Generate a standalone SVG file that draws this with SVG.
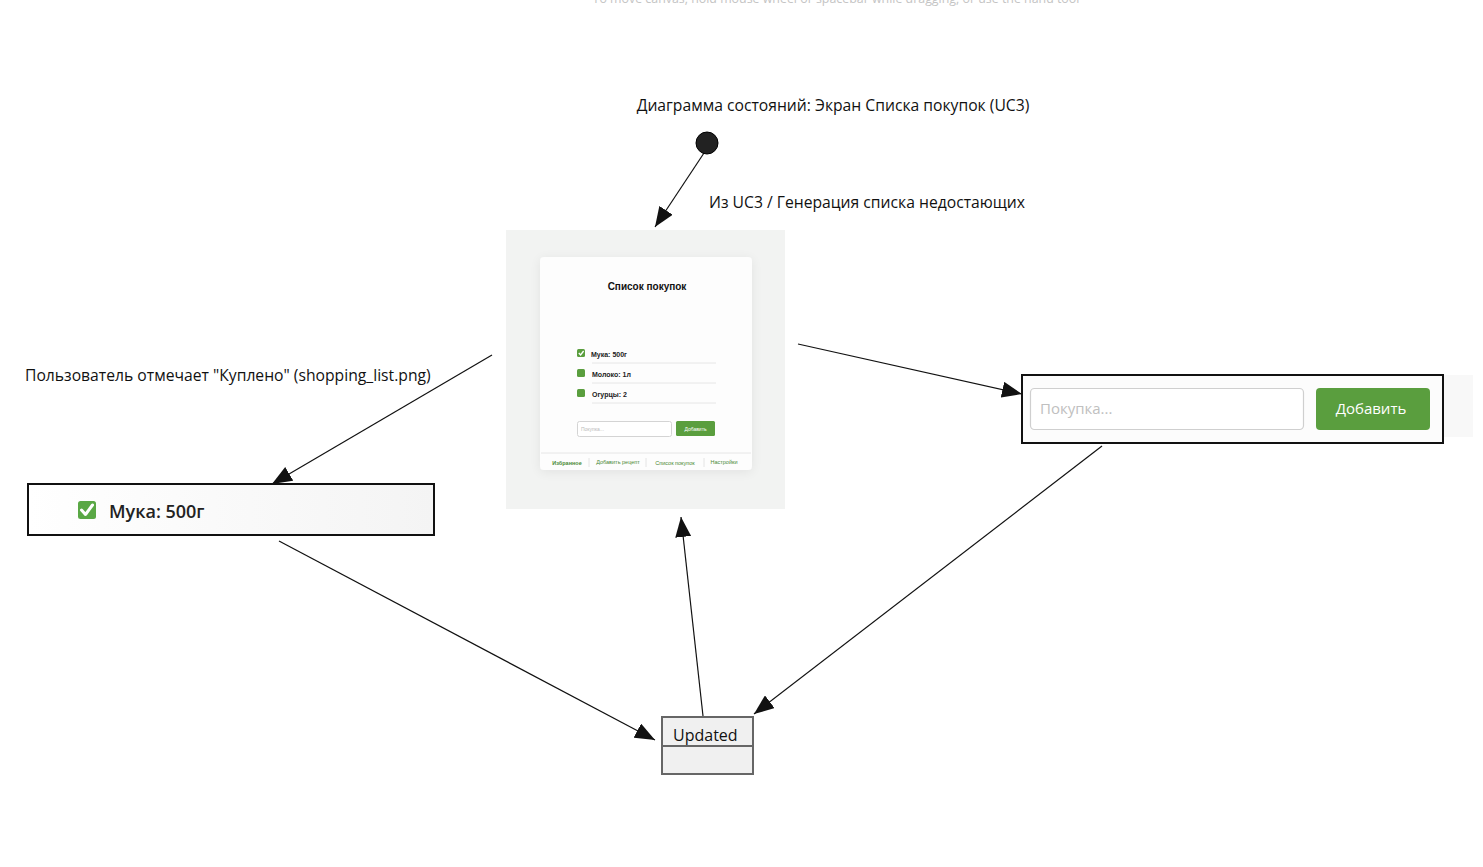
<svg xmlns="http://www.w3.org/2000/svg" width="1483" height="867" viewBox="0 0 1483 867">
  <style>
    .lbl { font-family: "Open Sans", "Noto Sans", sans-serif; font-size: 15.7px; fill: #111; }
    .edge { stroke: #111; stroke-width: 1.2; fill: none; marker-end: url(#arrow); }
    .ui { font-family: "Liberation Sans", Arial, sans-serif; }
    .shot-item { font-family: "Liberation Sans", Arial, sans-serif; font-size: 7px; font-weight: bold; fill: #222; }
    .shot-tab { font-family: "Liberation Sans", Arial, sans-serif; font-size: 5.5px; fill: #4a8a36; }
    .rule { stroke: #e6e6e6; stroke-width: 1; }
  </style>
  <defs>
    <marker id="arrow" viewBox="0 0 20 16" refX="20" refY="8" markerWidth="20" markerHeight="16" markerUnits="userSpaceOnUse" orient="auto">
      <path d="M0,0 L20,8 L0,16 Z" fill="#111"/>
    </marker>
    <filter id="cardShadow" x="-20%" y="-20%" width="140%" height="140%">
      <feGaussianBlur in="SourceAlpha" stdDeviation="6"/>
      <feOffset dy="2"/>
      <feComponentTransfer><feFuncA type="linear" slope="0.07"/></feComponentTransfer>
      <feMerge><feMergeNode/><feMergeNode in="SourceGraphic"/></feMerge>
    </filter>
    <linearGradient id="rowFade" x1="0" y1="0" x2="1" y2="0">
      <stop offset="0" stop-color="#ffffff"/>
      <stop offset="1" stop-color="#f4f4f4"/>
    </linearGradient>
  </defs>

  <rect width="1483" height="867" fill="#ffffff"/>

  <!-- canvas hint -->
  <text x="836" y="3" text-anchor="middle" font-family="'Open Sans', sans-serif" font-size="12.4" fill="#c4c4c4">To move canvas, hold mouse wheel or spacebar while dragging, or use the hand tool</text>

  <!-- title -->
  <text class="lbl" x="833" y="111" text-anchor="middle">Диаграмма состояний: Экран Списка покупок (UC3)</text>

  <!-- connectors -->
  <g id="connectors">
    <line class="edge" x1="704" y1="153" x2="655" y2="227"/>
    <line class="edge" x1="492" y1="355" x2="272" y2="484"/>
    <line class="edge" x1="798" y1="344" x2="1022" y2="394"/>
    <line class="edge" x1="1102" y1="446" x2="754" y2="714"/>
    <line class="edge" x1="279" y1="541" x2="655" y2="740"/>
    <line class="edge" x1="703" y1="716" x2="681" y2="517"/>
    <text class="lbl" x="709" y="208">Из UC3 / Генерация списка недостающих</text>
    <text class="lbl" x="25" y="381">Пользователь отмечает "Куплено" (shopping_list.png)</text>
  </g>

  <!-- initial pseudo-state -->
  <g id="start">
    <circle cx="707" cy="143" r="11" fill="#222" stroke="#000" stroke-width="1"/>
  </g>

  <!-- shopping list screen -->
  <g id="screen">
    <rect x="506" y="230" width="279" height="279" fill="#f2f3f2"/>
    <rect x="540" y="257" width="212" height="213" rx="4" fill="#fdfdfd" filter="url(#cardShadow)"/>
    <text class="ui" x="647" y="290" text-anchor="middle" font-size="10" font-weight="bold" fill="#111">Список покупок</text>

    <rect x="577" y="349" width="8" height="8" rx="1.5" fill="#5a9e3e"/>
    <path d="M578.8,353 L580.6,355 L583.6,351" stroke="#fff" stroke-width="1.3" fill="none"/>
    <text class="shot-item" x="591" y="357">Мука: 500г</text>
    <line class="rule" x1="592" y1="363" x2="716" y2="363"/>

    <rect x="577" y="369" width="8" height="8" rx="1.5" fill="#5a9e3e"/>
    <text class="shot-item" x="592" y="377">Молоко: 1л</text>
    <line class="rule" x1="592" y1="383" x2="716" y2="383"/>

    <rect x="577" y="389" width="8" height="8" rx="1.5" fill="#5a9e3e"/>
    <text class="shot-item" x="592" y="397">Огурцы: 2</text>
    <line class="rule" x1="592" y1="403" x2="716" y2="403"/>

    <rect x="577.5" y="421.5" width="94" height="15" rx="2" fill="#fff" stroke="#d4d4d4"/>
    <text class="ui" x="581" y="431" font-size="5" fill="#bbb">Покупка...</text>
    <rect x="676" y="421" width="39" height="15" rx="1.5" fill="#5a9e3e"/>
    <text class="ui" x="695.5" y="431" text-anchor="middle" font-size="5" fill="#fff">Добавить</text>

    <line class="rule" x1="541" y1="453" x2="751" y2="453"/>
    <text class="shot-tab" x="567" y="465" text-anchor="middle" font-weight="bold">Избранное</text>
    <line x1="589" y1="458" x2="589" y2="467" stroke="#ddd" stroke-width="0.8"/>
    <text class="shot-tab" x="618" y="464" text-anchor="middle">Добавить рецепт</text>
    <line x1="646" y1="458" x2="646" y2="467" stroke="#ddd" stroke-width="0.8"/>
    <text class="shot-tab" x="675" y="465" text-anchor="middle">Список покупок</text>
    <line x1="704" y1="458" x2="704" y2="467" stroke="#ddd" stroke-width="0.8"/>
    <text class="shot-tab" x="724" y="464" text-anchor="middle">Настройки</text>
  </g>

  <!-- add item form -->
  <g id="addForm">
    <rect x="1443" y="375" width="30" height="62" fill="#f8f8f8"/>
    <rect x="1022" y="375" width="421" height="68" fill="#fcfcfc" stroke="#111" stroke-width="2"/>
    <rect x="1030.5" y="388.5" width="273" height="41" rx="4" fill="#fff" stroke="#cfcfcf" stroke-width="1.2"/>
    <text x="1040" y="414" font-family="'Open Sans', sans-serif" font-size="15" fill="#c0c0c0">Покупка...</text>
    <rect x="1316" y="388" width="114" height="42" rx="4" fill="#5a9e3e"/>
    <text x="1371" y="414" text-anchor="middle" font-family="'Open Sans', sans-serif" font-size="15" fill="#fff">Добавить</text>
  </g>

  <!-- checked item -->
  <g id="checkedItem">
    <rect x="28" y="484" width="406" height="51" fill="url(#rowFade)" stroke="#111" stroke-width="2"/>
    <rect x="78" y="501" width="18" height="18" rx="2.5" fill="#5aa845"/>
    <path d="M81.5,510 L85.5,514.5 L92.5,505" stroke="#fff" stroke-width="3" fill="none" stroke-linecap="round" stroke-linejoin="round"/>
    <text x="109" y="518" font-family="'Open Sans', sans-serif" font-size="18" font-weight="600" fill="#222">Мука: 500г</text>
  </g>

  <!-- updated state -->
  <g id="updated">
    <rect x="662" y="717" width="91" height="57" fill="#f0f0f0" stroke="#666" stroke-width="2"/>
    <line x1="662" y1="746" x2="753" y2="746" stroke="#666" stroke-width="2"/>
    <text x="673" y="741" font-family="'Open Sans', sans-serif" font-size="16" fill="#111">Updated</text>
  </g>
</svg>
